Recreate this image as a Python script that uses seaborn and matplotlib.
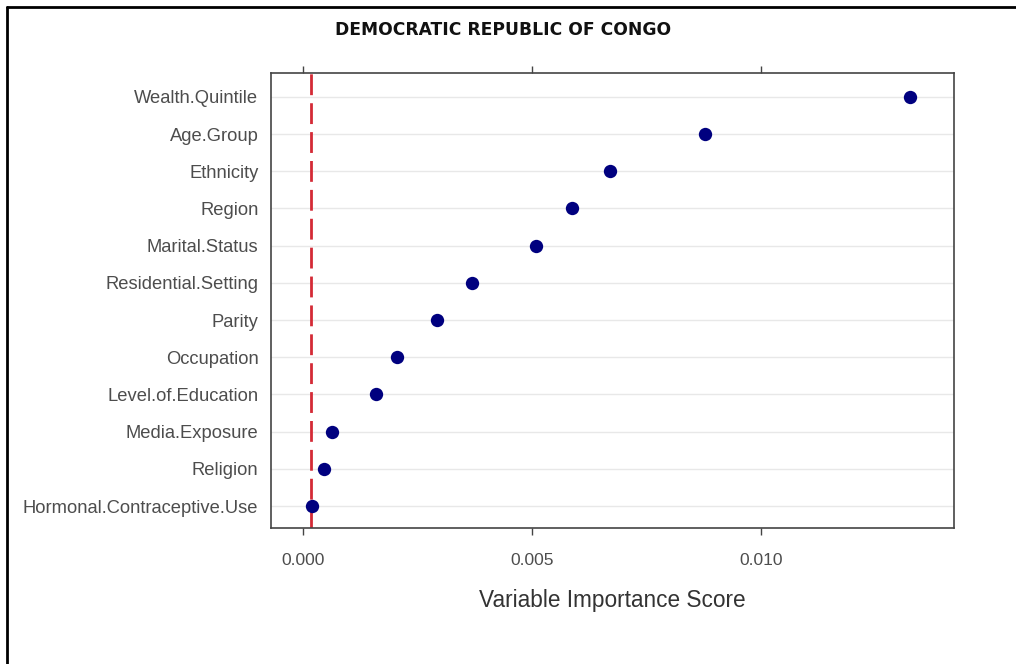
import matplotlib
matplotlib.use("Agg")
import matplotlib.pyplot as plt
import seaborn as sns
import pandas as pd
from matplotlib.lines import Line2D

variables = ["Wealth.Quintile", "Age.Group", "Ethnicity", "Region", "Marital.Status",
             "Residential.Setting", "Parity", "Occupation", "Level.of.Education",
             "Media.Exposure", "Religion", "Hormonal.Contraceptive.Use"]
scores = [0.01325, 0.00878, 0.00669, 0.00586, 0.00508, 0.00368, 0.00292,
          0.00205, 0.00159, 0.00063, 0.00045, 0.00020]
threshold = 0.00017
x_ticks = [0.000, 0.005, 0.010]
x_tick_labels = ["0.000", "0.005", "0.010"]
title = "DEMOCRATIC REPUBLIC OF CONGO"
x_label = "Variable Importance Score"

df = pd.DataFrame({"variable": variables, "score": scores})

sns.set_theme(style="white")
plt.rcParams["font.family"] = ["Liberation Sans", "DejaVu Sans"]

fig = plt.figure(figsize=(10.16, 6.64), dpi=100)
ax = fig.add_axes([271 / 1016, 1 - 528 / 664, (954 - 271) / 1016, (528 - 73) / 664])

for i in range(len(variables)):
    ax.axhline(i, color="#e8e8e8", lw=1.0, zorder=0)

ax.axvline(threshold, color="#d42a36", lw=2.0, ls=(0, (7.5, 2.9)), zorder=1)

sns.stripplot(data=df, x="score", y="variable", order=variables, orient="h",
              jitter=False, color="#00007f", size=9.6, ax=ax, zorder=3,
              linewidth=0)

ax.set_xlim(-0.000705, 0.014207)
ax.set_ylim(len(variables) - 0.41, -0.64)
ax.set_xticks(x_ticks)
ax.set_xticklabels(x_tick_labels)
ax.set_xlabel("")
ax.set_ylabel("")
ax.tick_params(axis="x", which="both", bottom=True, top=True, labelbottom=True,
               labeltop=False, direction="out", length=5, width=1, color="#444444",
               labelsize=12.5, labelcolor="#4d4d4d", pad=13)
ax.tick_params(axis="y", left=False, length=0, labelsize=13.2, labelcolor="#4d4d4d", pad=9)
for s in ax.spines.values():
    s.set_color("#444444")
    s.set_linewidth(1.2)

fig.text(503 / 1016, 1 - 30 / 664, title, ha="center", va="center",
         fontsize=12.3, fontweight="bold", color="#111111", family="DejaVu Sans")
fig.text(612 / 1016, 1 - 601 / 664, x_label, ha="center", va="center",
         fontsize=16.3, color="#333333")

# screenshot frame (left and top)
fig.add_artist(Line2D([7 / 1016, 7 / 1016], [0, 1 - 7 / 664], transform=fig.transFigure,
                      color="black", lw=2))
fig.add_artist(Line2D([7 / 1016, 1], [1 - 7 / 664, 1 - 7 / 664], transform=fig.transFigure,
                      color="black", lw=2))

fig.savefig("out.png", dpi=100)
